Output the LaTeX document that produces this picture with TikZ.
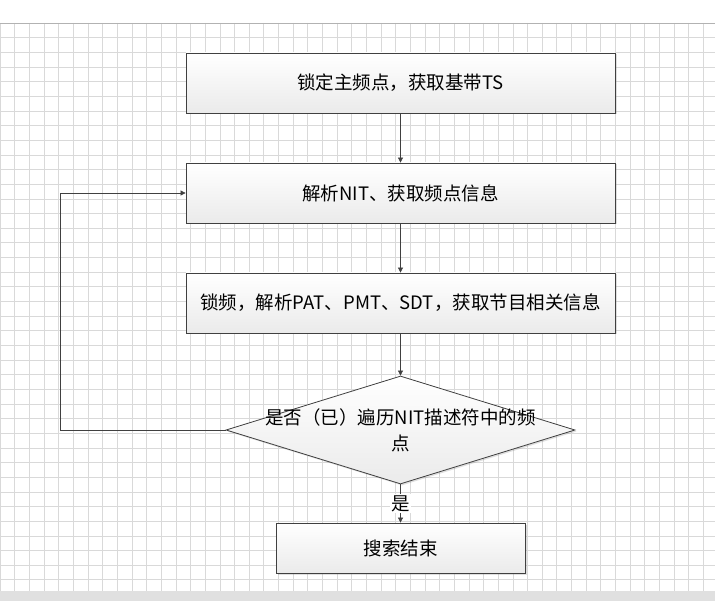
\documentclass[tikz,border=0pt]{standalone}
\usepackage{fontspec}
\setmainfont{Noto Sans CJK SC}
\usetikzlibrary{shapes.geometric,shadows,arrows.meta}
\tikzset{
 box/.style={draw=black!75,line width=0.8pt,top color=white,bottom color=black!8,drop shadow={shadow xshift=1.5pt,shadow yshift=-1.5pt,opacity=0.25},inner sep=0pt,font=\fontsize{18.5}{22}\selectfont},
 conn/.style={draw=black!75,line width=0.7pt,-{Triangle[length=5pt,width=5pt]}}
}
\begin{document}
\begin{tikzpicture}[x=1pt,y=-1pt]
\useasboundingbox (0,0) rectangle (715,601);
\fill[white] (0,0) rectangle (715,601);
\begin{scope}
\clip (0,23) rectangle (715,591);
\foreach \i in {0,...,49} {\draw[black!15,line width=0.5pt] (\i*14.65,23) -- (\i*14.65,591);}
\foreach \j in {0,...,39} {\draw[black!15,line width=0.5pt] (0,23+\j*14.65) -- (715,23+\j*14.65);}
\end{scope}
\draw[black!30] (0,23) -- (715,23);
\fill[black!12] (0,591) rectangle (715,601);
\node[box,minimum width=429pt,minimum height=60pt] (b1) at (400.5,83) {锁定主频点，获取基带TS};
\node[box,minimum width=429pt,minimum height=60pt] (b2) at (400.5,193) {解析NIT、获取频点信息};
\node[box,minimum width=429pt,minimum height=60pt] (b3) at (400.5,303) {锁频，解析PAT、PMT、SDT，获取节目相关信息};
\node[box,diamond,aspect=3.23,minimum width=349pt,minimum height=108pt] (d) at (400.5,430) {};
\node[font=\fontsize{18.5}{26}\selectfont,align=center] (dt) at (400.5,430) {是否（已）遍历NIT描述符中的频\\点};
\node[box,minimum width=249pt,minimum height=50pt] (b4) at (400.5,548) {搜索结束};
\draw[conn] (b1) -- (b2);
\draw[conn] (b2) -- (b3);
\draw[conn] (b3) -- (d);
\coordinate (lc) at (60,430);
\draw[conn] (d.west) -- (lc) |- (b2.west);
\draw[conn] (d) -- node[fill=white,inner sep=1pt,font=\fontsize{18.5}{22}\selectfont] (yes) {是} (b4);
\end{tikzpicture}
\end{document}
